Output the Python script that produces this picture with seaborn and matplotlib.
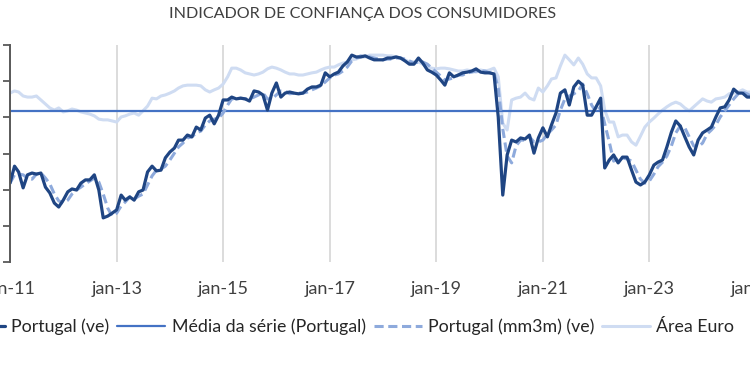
import matplotlib
matplotlib.use('Agg')
import matplotlib.pyplot as plt
import pandas as pd
import seaborn as sns

# monthly values, jan-2011 .. dez-2024
portugal_ve = [
    -38.2, -33.5, -35.1, -39.5, -35.9, -35.4, -35.7, -35.4, -39.3, -40.9, -43.7, -44.8,
    -42.9, -40.6, -39.8, -40.1, -38.2, -37.3, -37.3, -35.9, -40.1, -47.8, -47.3, -46.5,
    -45.6, -41.5, -42.9, -42.0, -42.9, -40.6, -40.1, -35.1, -33.5, -34.8, -34.6, -31.2,
    -29.6, -28.5, -26.3, -26.3, -24.9, -25.4, -22.7, -23.5, -20.2, -19.4, -21.8, -19.4,
    -15.2, -15.2, -14.4, -14.9, -14.7, -14.9, -15.5, -12.7, -13.0, -13.8, -18.0, -13.3,
    -10.5, -14.4, -13.3, -13.0, -13.3, -13.5, -13.3, -12.2, -11.6, -11.6, -11.1, -7.7,
    -8.8, -8.0, -7.5, -5.8, -4.7, -2.8, -3.3, -3.3, -3.0, -3.6, -4.1, -4.1,
    -4.1, -3.6, -3.6, -3.3, -3.6, -4.4, -5.3, -5.3, -3.6, -5.0, -6.9, -7.5,
    -8.3, -9.7, -11.1, -7.7, -8.8, -8.3, -7.7, -7.5, -7.2, -6.6, -7.5, -7.7,
    -7.7, -8.0, -19.9, -41.5, -30.4, -26.3, -26.8, -25.7, -26.0, -24.9, -29.9, -25.7,
    -22.9, -25.4, -22.1, -18.8, -13.3, -12.4, -16.6, -11.6, -10.0, -11.1, -19.4, -19.4,
    -17.1, -14.7, -34.0, -31.8, -30.4, -32.6, -31.0, -31.0, -34.6, -37.9, -38.7, -37.9,
    -35.9, -33.2, -32.4, -31.8, -28.2, -24.1, -21.0, -22.4, -25.4, -28.2, -30.4, -26.3,
    -24.3, -23.5, -22.7, -19.9, -17.4, -17.1, -15.2, -12.2, -13.3, -13.3, -14.4, -14.4,
]
portugal_mm3m = [
    -38.2, -35.9, -35.7, -35.9, -36.8, -37.1, -35.7, -35.4, -36.8, -38.4, -41.2, -43.1,
    -43.7, -42.9, -41.2, -40.1, -39.3, -38.4, -37.6, -36.8, -37.9, -41.2, -45.1, -47.3,
    -46.5, -44.5, -43.4, -42.0, -42.6, -41.8, -41.2, -38.7, -36.2, -34.6, -34.3, -33.5,
    -31.8, -29.9, -28.2, -27.1, -25.7, -25.4, -24.3, -23.8, -22.1, -21.0, -20.5, -20.2,
    -18.8, -16.6, -14.9, -14.9, -14.7, -14.9, -14.9, -14.4, -13.8, -13.3, -14.9, -14.9,
    -13.8, -12.7, -12.7, -13.5, -13.3, -13.3, -13.3, -13.0, -12.4, -11.9, -11.3, -10.2,
    -9.1, -8.3, -8.0, -7.2, -6.1, -4.4, -3.6, -3.0, -3.3, -3.3, -3.6, -3.9,
    -4.1, -3.9, -3.9, -3.6, -3.6, -3.9, -4.4, -5.0, -4.7, -4.7, -5.3, -6.4,
    -7.5, -8.6, -9.7, -9.4, -9.1, -8.3, -8.3, -7.7, -7.5, -7.2, -7.2, -7.2,
    -7.7, -7.7, -11.9, -23.2, -30.7, -32.6, -27.9, -26.3, -26.3, -25.4, -26.8, -26.8,
    -26.3, -24.6, -23.5, -22.1, -18.0, -14.9, -14.1, -13.5, -12.7, -10.8, -13.5, -16.6,
    -18.5, -17.1, -21.8, -26.8, -32.1, -31.5, -31.2, -31.5, -32.1, -34.6, -37.1, -38.2,
    -37.6, -35.7, -33.7, -32.4, -30.7, -27.9, -24.3, -22.4, -22.9, -25.4, -27.9, -28.2,
    -27.1, -24.6, -23.5, -22.1, -19.9, -18.2, -16.6, -14.9, -13.5, -13.0, -13.5, -14.1,
]
area_euro = [
    -13.3, -12.7, -13.0, -14.1, -14.4, -14.4, -14.1, -15.2, -16.3, -17.4, -18.0, -17.4,
    -18.5, -18.2, -17.7, -18.0, -18.5, -18.8, -19.1, -19.6, -20.5, -20.7, -20.7, -21.0,
    -21.3, -19.9, -19.6, -19.1, -18.8, -19.4, -18.2, -16.9, -14.7, -14.9, -14.1, -13.8,
    -13.3, -12.7, -11.9, -11.3, -11.1, -11.1, -11.1, -11.3, -12.4, -13.0, -12.4, -11.9,
    -10.8, -8.8, -6.4, -6.4, -6.9, -7.7, -8.0, -8.3, -8.0, -7.5, -6.6, -6.1,
    -6.4, -6.9, -7.5, -8.0, -8.0, -8.3, -8.3, -8.0, -7.7, -7.5, -6.9, -6.4,
    -6.1, -6.1, -5.5, -5.0, -4.7, -4.1, -3.9, -3.3, -3.3, -2.8, -2.8, -2.8,
    -2.8, -3.0, -3.0, -3.3, -3.6, -4.1, -4.7, -4.7, -4.7, -5.3, -6.1, -6.4,
    -6.6, -6.4, -6.4, -6.6, -6.9, -7.2, -7.2, -6.9, -7.2, -7.5, -6.9, -7.2,
    -6.9, -6.4, -8.8, -21.6, -23.5, -15.2, -14.7, -14.4, -13.3, -14.7, -15.2, -11.9,
    -13.0, -11.3, -9.4, -9.1, -5.8, -2.8, -4.1, -5.5, -3.6, -5.3, -8.0, -9.1,
    -9.1, -11.3, -18.0, -21.3, -21.3, -25.4, -24.9, -24.9, -26.8, -27.7, -25.2, -22.7,
    -21.3, -20.2, -19.1, -18.0, -17.1, -16.3, -15.8, -16.3, -17.4, -18.2, -17.1, -16.0,
    -14.9, -15.5, -15.8, -14.9, -14.7, -14.4, -13.5, -13.3, -13.0, -12.4, -13.0, -13.0,
]
media_serie = -18.2

tick_years = ['2011', '2013', '2015', '2017', '2019', '2021', '2023', '2025']
tick_labels = ['jan-11', 'jan-13', 'jan-15', 'jan-17', 'jan-19', 'jan-21', 'jan-23', 'jan-25']
y_ticks = [0, -10, -20, -30, -40, -50, -60]

dates = pd.date_range('2011-01-01', periods=len(portugal_ve), freq='MS')
df = pd.DataFrame({'data': dates, 'pt': portugal_ve, 'mm3m': portugal_mm3m,
                   'ae': area_euro})
df['media'] = media_serie

sns.set_style('white')
plt.rcParams['font.family'] = ['Lato', 'DejaVu Sans']

fig = plt.figure(figsize=(7.5, 3.75), dpi=100)
# the plot runs past the right edge of the picture, as in the reference crop
ax = fig.add_axes([10 / 750, 113 / 375, 746 / 750, 217 / 375])

sns.lineplot(data=df, x='data', y='ae', ax=ax, color='#cfdcf2', lw=2.2, label='Área Euro')
sns.lineplot(data=df, x='data', y='media', ax=ax, color='#4472c4', lw=1.6,
             label='Média da série (Portugal)')
sns.lineplot(data=df, x='data', y='mm3m', ax=ax, color='#8eaadc', lw=2.2,
             linestyle=(0, (3, 1.5)), label='Portugal (mm3m) (ve)')
sns.lineplot(data=df, x='data', y='pt', ax=ax, color='#1f4583', lw=2.3, label='Portugal (ve)')

ax.set_xlim(pd.Timestamp('2011-01-01'), pd.Timestamp('2025-01-01'))
ax.set_ylim(-60, 0)
ax.set_xticks(pd.to_datetime(tick_years))
ax.set_xticklabels(tick_labels)
ax.set_yticks(y_ticks)
ax.set_xlabel('')
ax.set_ylabel('')
ax.grid(axis='x', color='#d9d9d9', lw=1.3)
ax.grid(axis='y', visible=False)
for s in ['top', 'right', 'bottom']:
    ax.spines[s].set_visible(False)
ax.spines['left'].set_color('#595959')
ax.spines['left'].set_linewidth(1.4)
ax.tick_params(axis='x', length=0, pad=14, labelsize=13, labelcolor='#404040')
ax.tick_params(axis='y', length=5, width=1.3, color='#595959', direction='out',
               labelsize=13, labelcolor='#404040', left=True)

h, l = ax.get_legend_handles_labels()
ax.get_legend().remove()
order = ['Portugal (ve)', 'Média da série (Portugal)', 'Portugal (mm3m) (ve)', 'Área Euro']
hd = dict(zip(l, h))
fig.legend([hd[k] for k in order], order, loc='center', bbox_to_anchor=(0.461, 0.128),
           ncol=4, frameon=False, fontsize=12.8, handlelength=2.7, columnspacing=0.45,
           handletextpad=0.35, labelcolor='#262626')

fig.text(0.484, 0.963, 'INDICADOR DE CONFIANÇA DOS CONSUMIDORES', ha='center',
         va='center', fontsize=11.6, color='#404040')

fig.savefig('out.png', dpi=100)
